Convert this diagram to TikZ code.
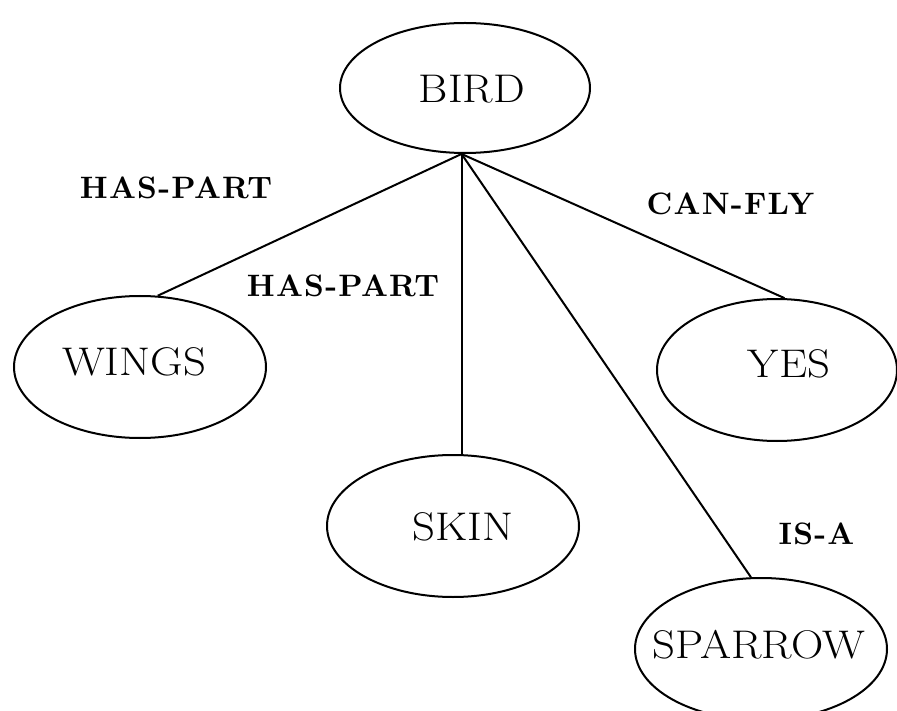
\documentclass[tikz,border=0pt]{standalone}
\usepackage{fontspec}
\usetikzlibrary{shapes.geometric}
\newfontfamily\conceptfont[FakeStretch=1.12]{lmroman17-regular.otf}
\newfontfamily\relationfont[LetterSpace=4]{lmroman10-bold.otf}
\tikzset{
  concept/.style={ellipse, draw, line width=2pt, inner sep=0pt,
    minimum width=252pt, minimum height=142pt},
  nm/.style={font=\conceptfont\fontsize{40}{48}\selectfont, inner sep=0pt},
  rel/.style={font=\relationfont\fontsize{31}{36}\selectfont, inner sep=0pt},
  link/.style={line width=2pt}
}
\begin{document}
\begin{tikzpicture}[x=1pt,y=-1pt]
\useasboundingbox (0,0) rectangle (897,711);
\node[concept, minimum width=250pt, minimum height=130pt,
  label={[nm,xshift=7pt,yshift=-1pt]center:BIRD}] (bird) at (465,88) {};
\node[concept, label={[nm,xshift=-6pt,yshift=5pt]center:WINGS}] (wings) at (140,367) {};
\node[concept, label={[nm,xshift=10pt,yshift=-1pt]center:SKIN}] (skin) at (453,526) {};
\node[concept, minimum width=240pt, label={[nm,xshift=12pt,yshift=6pt]center:YES}] (yes) at (777,370) {};
\node[concept, label={[nm,xshift=-2pt,yshift=4pt]center:SPARROW}] (sparrow) at (761,649) {};

\coordinate (hub) at (bird.-93);
\draw[link] (hub) -- (wings.76);
\draw[link] (hub) -- (hub |- skin.north);
\draw[link] (hub) -- (yes.84);
\draw[link] (hub) -- (sparrow.98);

\node[rel] (l1) at (176,187.5) {HAS-PART};
\node[rel] (l2) at (343,286) {HAS-PART};
\node[rel] (l3) at (730.5,204) {CAN-FLY};
\node[rel] (l4) at (816.5,534) {IS-A};
\end{tikzpicture}
\end{document}
